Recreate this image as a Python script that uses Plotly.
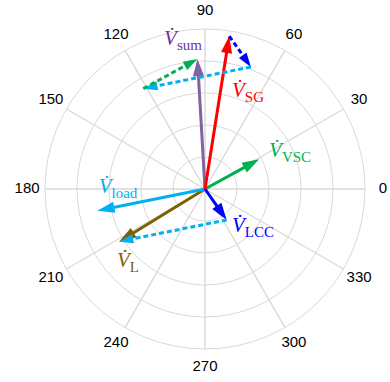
import numpy as np
import plotly.graph_objects as go

# ---- data: phasors (magnitude, angle in degrees) ----
base_names = ["SG", "LCC", "load", "VSC"]
base_mag = [4.84, 1.18, 3.43, 1.93]
base_ang = [81.0, 305.0, 191.4, 28.7]

angular_ticks = [0, 30, 60, 90, 120, 150, 180, 210, 240, 270, 300, 330]
angular_labels = [str(t) for t in angular_ticks]
radial_ticks = [1, 2, 3, 4, 5]

# label placement (r, theta) and colors
label_names = ["sum", "SG", "VSC", "load", "LCC", "L"]
label_r = [4.71, 3.32, 2.90, 2.72, 1.91, 3.32]
label_t = [98.4, 66.1, 23.5, 179.3, 321.6, 223.5]
label_colors = ["#7030a0", "#ff0000", "#00b050", "#00b0f0", "#0000ff", "#7f6000"]

GRID = "#d9d9d9"
R_MAX = radial_ticks[-1]
R_LABEL = 5.56


def to_xy(m, a):
    a = np.deg2rad(a)
    return np.array([m * np.cos(a), m * np.sin(a)])


def to_polar(v):
    return float(np.hypot(v[0], v[1])), float(np.degrees(np.arctan2(v[1], v[0])) % 360)


vec = {n: to_xy(m, a) for n, m, a in zip(base_names, base_mag, base_ang)}
vec["L"] = vec["LCC"] + vec["load"]
vec["sum"] = vec["SG"] + vec["LCC"] + vec["load"] + vec["VSC"]

fig = go.Figure()

# angular spokes (grid) ending at the outer circle
for t in angular_ticks:
    fig.add_trace(go.Scatterpolar(
        r=[0, R_MAX], theta=[t, t], mode="lines",
        line=dict(color=GRID, width=1.4),
        showlegend=False, hoverinfo="skip"))


def arrow(p0, p1, color, dash="solid", width=3, head=18):
    r0, t0 = to_polar(p0)
    r1, t1 = to_polar(p1)
    fig.add_trace(go.Scatterpolar(
        r=[r0, r1], theta=[t0, t1], mode="lines+markers",
        line=dict(color=color, width=width, dash=dash),
        marker=dict(symbol="arrow", size=[0, head], color=color, opacity=1,
                    angleref="previous", line=dict(width=0)),
        showlegend=False, hoverinfo="skip"))


zero = np.array([0.0, 0.0])
# solid phasors
arrow(zero, vec["L"], "#7f6000")
arrow(zero, vec["load"], "#00b0f0")
arrow(zero, vec["VSC"], "#00b050")
arrow(zero, vec["LCC"], "#0000ff")
arrow(zero, vec["sum"], "#8064a2")
arrow(zero, vec["SG"], "#ff0000")

# dashed chain
dash = "5px,3px"
p1 = vec["SG"] + vec["LCC"]
p2 = p1 + vec["load"]
arrow(vec["SG"], p1, "#0000ff", dash, 3, 15)
arrow(p1, p2, "#00b0f0", dash, 3, 15)
arrow(p2, vec["sum"], "#00b050", dash, 3, 15)
arrow(vec["LCC"], vec["L"], "#00b0f0", dash, 3, 15)

# phasor labels
texts = ["<i>V\u0307</i><sub><span style=\"font-size:15px\">%s</span></sub>" % n for n in label_names]
fig.add_trace(go.Scatterpolar(
    r=label_r, theta=label_t, mode="text", text=texts,
    textposition="middle center",
    textfont=dict(family="Liberation Serif", size=21, color=label_colors),
    showlegend=False, hoverinfo="skip"))

# angular tick labels
fig.add_trace(go.Scatterpolar(
    r=[R_LABEL] * len(angular_ticks), theta=angular_ticks, mode="text",
    text=angular_labels, textposition="middle center",
    textfont=dict(family="Liberation Sans", size=15, color="#000000"),
    showlegend=False, hoverinfo="skip"))

fig.update_layout(
    width=390, height=382,
    margin=dict(l=21, r=1, t=5, b=9),
    paper_bgcolor="white",
    polar=dict(
        bgcolor="white",
        angularaxis=dict(
            rotation=0, direction="counterclockwise",
            tickmode="array", tickvals=angular_ticks,
            showticklabels=False, ticks="", showline=False, showgrid=False,
        ),
        radialaxis=dict(
            range=[0, 5.75], tickmode="array", tickvals=radial_ticks,
            showticklabels=False, ticks="", showline=False,
            gridcolor=GRID, gridwidth=1.4,
        ),
    ),
)

fig.write_html("out.html")
